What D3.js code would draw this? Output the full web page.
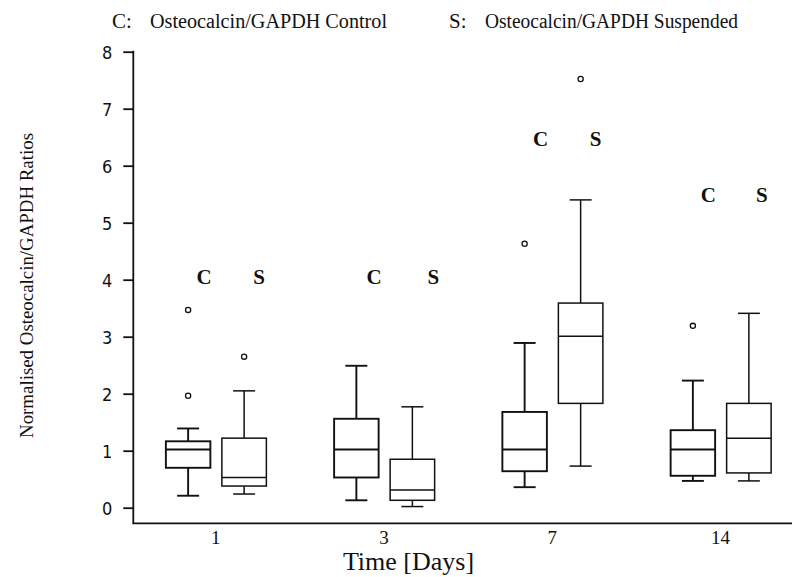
<!DOCTYPE html>
<html>
<head>
<meta charset="utf-8">
<script src="https://cdn.jsdelivr.net/npm/d3@7"></script>
<style>
  html, body { margin: 0; padding: 0; background: #fff; }
  svg { display: block; }
</style>
</head>
<body>
<svg id="chart" width="792" height="577"></svg>
<script>
// Time points (days)
const days = ["1", "3", "7", "14"];

// Control group: whisker ends, quartiles, median, outliers
const controlLow    = [0.21, 0.13, 0.36, 0.47];
const controlQ1     = [0.70, 0.53, 0.64, 0.56];
const controlMedian = [1.02, 1.02, 1.02, 1.02];
const controlQ3     = [1.165, 1.56, 1.68, 1.36];
const controlHigh   = [1.39, 2.49, 2.89, 2.23];
const controlOutliers = [[3.47, 1.965], [], [4.63], [3.19]];

// Suspended group
const suspLow    = [0.24, 0.02, 0.73, 0.47];
const suspQ1     = [0.38, 0.13, 1.83, 0.61];
const suspMedian = [0.53, 0.31, 3.01, 1.22];
const suspQ3     = [1.22, 0.85, 3.59, 1.83];
const suspHigh   = [2.05, 1.77, 5.40, 3.41];
const suspOutliers = [[2.65], [], [7.52], []];

// Height of the C / S group markers above each pair
const letterLevel = [4.05, 4.05, 6.47, 5.49];

// Y axis ticks
const yTicks = [0, 1, 2, 3, 4, 5, 6, 7, 8];

const SERIF = "'Liberation Serif', 'Times New Roman', serif";
const NARROW = "'Liberation Sans Narrow', 'DejaVu Sans Condensed', 'Liberation Sans', sans-serif";

const svg = d3.select("#chart");

const x = d3.scalePoint().domain(days).range([132, 805]).padding(0.5);
const y = d3.scaleLinear().domain([0, 8]).range([507.7, 51.7]);

const axisLeftX = 133.3;
const axisBottomY = 523.3;

// Legend
function serifText(sel, size) {
  return sel.attr("font-family", SERIF).attr("font-size", size).attr("fill", "#111");
}
serifText(svg.append("text"), 21).attr("x", 112).attr("y", 27.5).text("C:");
serifText(svg.append("text"), 20).attr("x", 150).attr("y", 27.5)
  .attr("textLength", 237).attr("lengthAdjust", "spacingAndGlyphs")
  .text("Osteocalcin/GAPDH Control");
serifText(svg.append("text"), 21).attr("x", 449).attr("y", 27.5).text("S:");
serifText(svg.append("text"), 20).attr("x", 485).attr("y", 27.5)
  .attr("textLength", 253).attr("lengthAdjust", "spacingAndGlyphs")
  .text("Osteocalcin/GAPDH Suspended");

// Y axis (ticks + labels), domain line drawn separately so it meets the x axis
const yAxis = svg.append("g")
  .attr("transform", `translate(${axisLeftX},0)`)
  .call(d3.axisLeft(y).tickValues(yTicks).tickFormat(d3.format("d")).tickSize(10).tickPadding(11));
yAxis.select(".domain").remove();
yAxis.selectAll(".tick line").attr("stroke", "#111").attr("stroke-width", 1.8);
yAxis.selectAll(".tick text")
  .attr("font-family", NARROW).attr("font-size", 18).attr("fill", "#111").attr("dy", "0.36em");

svg.append("line")
  .attr("x1", axisLeftX).attr("x2", axisLeftX)
  .attr("y1", y(8) - 0.9).attr("y2", axisBottomY)
  .attr("stroke", "#111").attr("stroke-width", 1.8);

// X axis: line + category labels, no tick marks
svg.append("line")
  .attr("x1", axisLeftX - 0.9).attr("x2", 792)
  .attr("y1", axisBottomY).attr("y2", axisBottomY)
  .attr("stroke", "#111").attr("stroke-width", 1.8);

const xAxis = svg.append("g")
  .attr("transform", `translate(0,${axisBottomY})`)
  .call(d3.axisBottom(x).tickSize(0).tickPadding(0));
xAxis.select(".domain").remove();
xAxis.selectAll(".tick text")
  .attr("font-family", SERIF)
  .attr("font-size", 19).attr("fill", "#111")
  .attr("dy", null).attr("y", 20.5).attr("dx", -1);

// Axis titles
serifText(svg.append("text"), 26)
  .attr("x", 408.5).attr("y", 569.5)
  .attr("text-anchor", "middle")
  .text("Time [Days]");

serifText(svg.append("text"), 19)
  .attr("transform", "translate(33,285.5) rotate(-90)")
  .attr("text-anchor", "middle")
  .attr("textLength", 305).attr("lengthAdjust", "spacingAndGlyphs")
  .text("Normalised Osteocalcin/GAPDH Ratios");

// Box plots
const groups = [
  { key: "C", shift: -28, sw: 1.9,
    low: controlLow, q1: controlQ1, med: controlMedian, q3: controlQ3, high: controlHigh, out: controlOutliers },
  { key: "S", shift: 28, sw: 1.5,
    low: suspLow, q1: suspQ1, med: suspMedian, q3: suspQ3, high: suspHigh, out: suspOutliers }
];
const boxW = 44.5;
const capW = 22;

groups.forEach(g => {
  const layer = svg.append("g").attr("stroke", "#111").attr("fill", "none").attr("stroke-width", g.sw);
  days.forEach((d, i) => {
    const cx = x(d) + g.shift;
    // whiskers
    layer.append("line").attr("x1", cx).attr("x2", cx).attr("y1", y(g.high[i])).attr("y2", y(g.q3[i]));
    layer.append("line").attr("x1", cx).attr("x2", cx).attr("y1", y(g.q1[i])).attr("y2", y(g.low[i]));
    layer.append("line").attr("x1", cx - capW / 2).attr("x2", cx + capW / 2).attr("y1", y(g.high[i])).attr("y2", y(g.high[i]));
    layer.append("line").attr("x1", cx - capW / 2).attr("x2", cx + capW / 2).attr("y1", y(g.low[i])).attr("y2", y(g.low[i]));
    // box
    layer.append("rect")
      .attr("x", cx - boxW / 2).attr("width", boxW)
      .attr("y", y(g.q3[i])).attr("height", y(g.q1[i]) - y(g.q3[i]))
      .attr("fill", "#fff");
    // median
    layer.append("line").attr("x1", cx - boxW / 2).attr("x2", cx + boxW / 2)
      .attr("y1", y(g.med[i])).attr("y2", y(g.med[i]));
    // outliers
    g.out[i].forEach(v => {
      layer.append("circle").attr("cx", cx).attr("cy", y(v)).attr("r", 2.6).attr("stroke-width", 1.3);
    });
  });
});

// Group markers above each day
const letterNudge = [0, 6, 0, -2];
days.forEach((d, i) => {
  const base = y(letterLevel[i]) + 7;
  serifText(svg.append("text"), 21)
    .attr("x", x(d) - 12 + letterNudge[i] * 0.3).attr("y", base)
    .attr("text-anchor", "middle").attr("font-weight", "bold")
    .text("C");
  serifText(svg.append("text"), 21)
    .attr("x", x(d) + 43 + letterNudge[i]).attr("y", base)
    .attr("text-anchor", "middle").attr("font-weight", "bold")
    .text("S");
});
</script>
</body>
</html>
